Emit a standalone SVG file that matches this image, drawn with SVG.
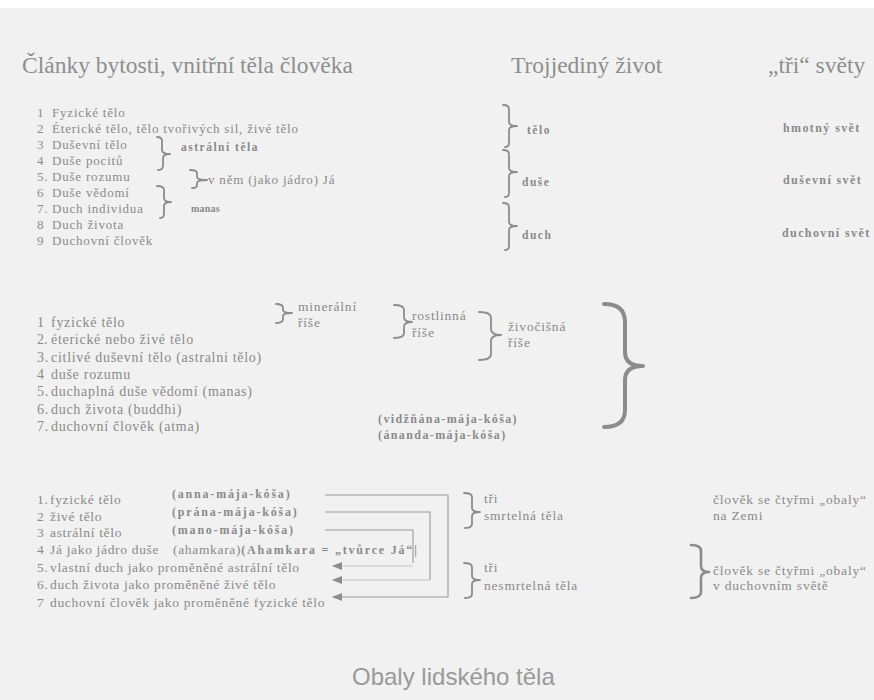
<svg xmlns="http://www.w3.org/2000/svg" width="874" height="700" viewBox="0 0 874 700">
<defs>
<style>
.bg{fill:#f1f1f1}
text{font-family:"Liberation Serif","DejaVu Serif",serif;fill:#8a8a8a}
.t{font-size:23.5px;fill:#8e8e8e}
.s1{font-size:13px;letter-spacing:0.8px}
.s2{font-size:14px;letter-spacing:0.72px}
.s3{font-size:13.5px;letter-spacing:0.67px}
.sm{font-size:13.5px;letter-spacing:0.8px}
.b{font-size:11.5px;font-weight:bold;letter-spacing:1.5px}
.mn{font-size:10px;font-weight:bold;letter-spacing:0.2px}
.k{font-size:12px;font-weight:bold;letter-spacing:1.8px}
.kw{font-size:12px;font-weight:bold;letter-spacing:1.4px}
.cap{font-family:"Liberation Sans","DejaVu Sans",sans-serif;font-size:24px;fill:#999}
.br{fill:none;stroke:#8c8c8c;stroke-width:1.8;stroke-linecap:round;stroke-linejoin:round}
.brb{fill:none;stroke:#8c8c8c;stroke-width:4;stroke-linecap:round;stroke-linejoin:round}
.con{fill:none;stroke:#9a9a9a;stroke-width:1.1}
.conl{fill:none;stroke:#c4c4c4;stroke-width:1.1}
</style>
<marker id="ah" markerWidth="10" markerHeight="8" refX="9" refY="4" orient="auto" markerUnits="userSpaceOnUse">
<path d="M0,0 L10,4 L0,8 Z" fill="#8c8c8c"/>
</marker>
</defs>
<rect width="874" height="700" fill="#ffffff"/>
<rect class="bg" x="0" y="8" width="874" height="692"/>

<g id="headers">
<text class="t" x="22" y="73">Články bytosti, vnitřní těla člověka</text>
<text class="t" x="511" y="73">Trojjediný život</text>
<text class="t" x="768" y="73">„tři“ světy</text>
</g>

<g id="list1">
<text class="s1" x="37" y="117">1<tspan x="52">Fyzické tělo</tspan></text>
<text class="s1" x="37" y="133">2<tspan x="52">Éterické tělo, tělo tvořivých sil, živé tělo</tspan></text>
<text class="s1" x="37" y="149">3<tspan x="52">Duševní tělo</tspan></text>
<text class="s1" x="37" y="165">4<tspan x="52">Duše pocitů</tspan></text>
<text class="s1" x="37" y="181">5.<tspan x="52">Duše rozumu</tspan></text>
<text class="s1" x="37" y="197">6<tspan x="52">Duše vědomí</tspan></text>
<text class="s1" x="37" y="213">7.<tspan x="52">Duch individua</tspan></text>
<text class="s1" x="37" y="229">8<tspan x="52">Duch života</tspan></text>
<text class="s1" x="37" y="245">9<tspan x="52">Duchovní člověk</tspan></text>
</g>

<g id="astral">
<path class="br" d="M157,137 Q162,137 162,141 L162,150 Q162,154 170,154 Q163,154 163,158 L163,166 Q163,170 158,170"/>
<text class="b" x="181" y="151">astrální těla</text>
</g>
<g id="ja">
<path class="br" d="M190,170 Q197,170 197,173 L197,177 Q197,180 207,180 Q197,180 197,183 L197,185 Q197,188 192,188"/>
<text class="s1" x="208" y="184">v něm (jako jádro) Já</text>
</g>
<g id="manas">
<path class="br" d="M157,186 Q164,186 164,190 L164,198 Q164,202 171,202 Q164,202 164,206 L164,214 Q164,218 160,218"/>
<text class="mn" x="191" y="212">manas</text>
</g>

<g id="trojjediny">
<path class="br" d="M503,105 Q509,105 509,109 L509,122 Q509,126 517,126 Q509,126 509,130 L509,143 Q509,147 505,147"/>
<text class="b" x="527" y="134">tělo</text>
<path class="br" d="M503,150 Q509,150 509,154 L509,168 Q509,172 517,172 Q509,172 509,176 L509,193 Q509,197 505,197"/>
<text class="b" x="522" y="186">duše</text>
<path class="br" d="M503,203 Q509,203 509,207 L509,222 Q509,226 517,226 Q509,226 509,230 L509,246 Q509,250 505,250"/>
<text class="b" x="522" y="239">duch</text>
</g>

<g id="svety">
<text class="kw" x="783" y="132">hmotný svět</text>
<text class="kw" x="783" y="184">duševní svět</text>
<text class="kw" x="782" y="237">duchovní svět</text>
</g>

<g id="list2">
<text class="s2" x="37" y="327">1<tspan x="51">fyzické tělo</tspan></text>
<text class="s2" x="37" y="344">2<tspan x="44">.</tspan></text>
<text class="s2" x="51" y="344">éterické nebo živé tělo</text>
<text class="s2" x="37" y="362">3.<tspan x="51">citlivé duševní tělo (astralni tělo)</tspan></text>
<text class="s2" x="37" y="379">4<tspan x="51">duše rozumu</tspan></text>
<text class="s2" x="37" y="396">5.<tspan x="51">duchaplná duše vědomí (manas)</tspan></text>
<text class="s2" x="37" y="414">6.<tspan x="51">duch života (buddhi)</tspan></text>
<text class="s2" x="37" y="431">7.<tspan x="51">duchovní člověk (atma)</tspan></text>
</g>

<g id="mineralni">
<path class="br" d="M276,304 Q283,304 283,308 L283,310 Q283,313 292,313 Q283,313 283,316 L283,319 Q283,323 276,323"/>
<text class="sm" x="298" y="311">minerální</text>
<text class="sm" x="298" y="327">říše</text>
</g>
<g id="rostlinna">
<path class="br" d="M394,305 Q404,305 404,310 L404,317 Q404,322 412,322 Q404,322 404,327 L404,333 Q404,338 394,338"/>
<text class="sm" x="412" y="320">rostlinná</text>
<text class="sm" x="412" y="337">říše</text>
</g>
<g id="zivocisna">
<path class="br" d="M479,312 Q491,312 491,318 L491,329 Q491,335 501,335 Q491,335 491,341 L491,354 Q491,360 479,360"/>
<text class="sm" x="508" y="331">živočišná</text>
<text class="sm" x="508" y="347">říše</text>
</g>
<g id="velka">
<path class="brb" d="M604,304 Q625,304 625,322 L625,352 Q625,366 643,366 Q625,366 625,380 L625,410 Q625,427 604,427"/>
</g>
<g id="kosa2">
<text class="kw" x="378" y="423">(vidžňána-mája-kóša)</text>
<text class="kw" x="378" y="439">(ánanda-mája-kóša)</text>
</g>

<g id="list3">
<text class="s3" x="37" y="504">1.<tspan x="50">fyzické tělo</tspan></text>
<text class="s3" x="37" y="521">2<tspan x="50">živé tělo</tspan></text>
<text class="s3" x="37" y="537">3<tspan x="50">astrální tělo</tspan></text>
<text class="s3" x="37" y="554">4<tspan x="50">Já jako jádro duše</tspan></text>
<text class="s3" x="37" y="572">5.<tspan x="50">vlastní duch jako proměněné astrální tělo</tspan></text>
<text class="s3" x="37" y="589">6.<tspan x="50">duch života jako proměněné živé tělo</tspan></text>
<text class="s3" x="37" y="607">7<tspan x="50">duchovní člověk jako proměněné fyzické tělo</tspan></text>
</g>
<g id="kosa3">
<text class="k" x="172" y="498">(anna-mája-kóša)</text>
<text class="k" x="172" y="516">(prána-mája-kóša)</text>
<text class="k" x="172" y="534">(mano-mája-kóša)</text>
<text class="s3" x="173" y="554">(ahamkara)<tspan class="k">(Ahamkara = „tvůrce Já“|</tspan></text>
</g>

<g id="connectors">
<path class="con" d="M325,495 H448 V597 H333" marker-end="url(#ah)"/>
<path class="con" d="M325,512 H430 V580"/>
<path class="conl" d="M430,580 H333" marker-end="url(#ah)"/>
<path class="con" d="M325,530 H413 V563"/>
<path class="conl" d="M413,566 H333" marker-end="url(#ah)"/>
</g>

<g id="smrtelna">
<path class="br" d="M464,493 Q472,493 472,497 L472,508 Q472,512 480,512 Q472,512 472,516 L472,524 Q472,528 465,528"/>
<text class="sm" x="484" y="503">tři</text>
<text class="sm" x="484" y="520">smrtelná těla</text>
</g>
<g id="nesmrtelna">
<path class="br" d="M464,563 Q472,563 472,567 L472,576 Q472,580 480,580 Q472,580 472,584 L472,594 Q472,598 465,598"/>
<text class="sm" x="484" y="572">tři</text>
<text class="sm" x="484" y="590">nesmrtelná těla</text>
</g>
<g id="zeme">
<text class="sm" x="713" y="504">člověk se čtyřmi „obaly“</text>
<text class="sm" x="713" y="520">na Zemi</text>
</g>
<g id="duchovni">
<path class="br" style="stroke-width:2.6" d="M691,545 Q701,545 701,551 L701,566 Q701,572 709,572 Q701,572 701,578 L701,592 Q701,598 691,598"/>
<text class="sm" x="713" y="575">člověk se čtyřmi „obaly“</text>
<text class="sm" x="713" y="590">v duchovním světě</text>
</g>

<text class="cap" x="352" y="685">Obaly lidského těla</text>
</svg>
